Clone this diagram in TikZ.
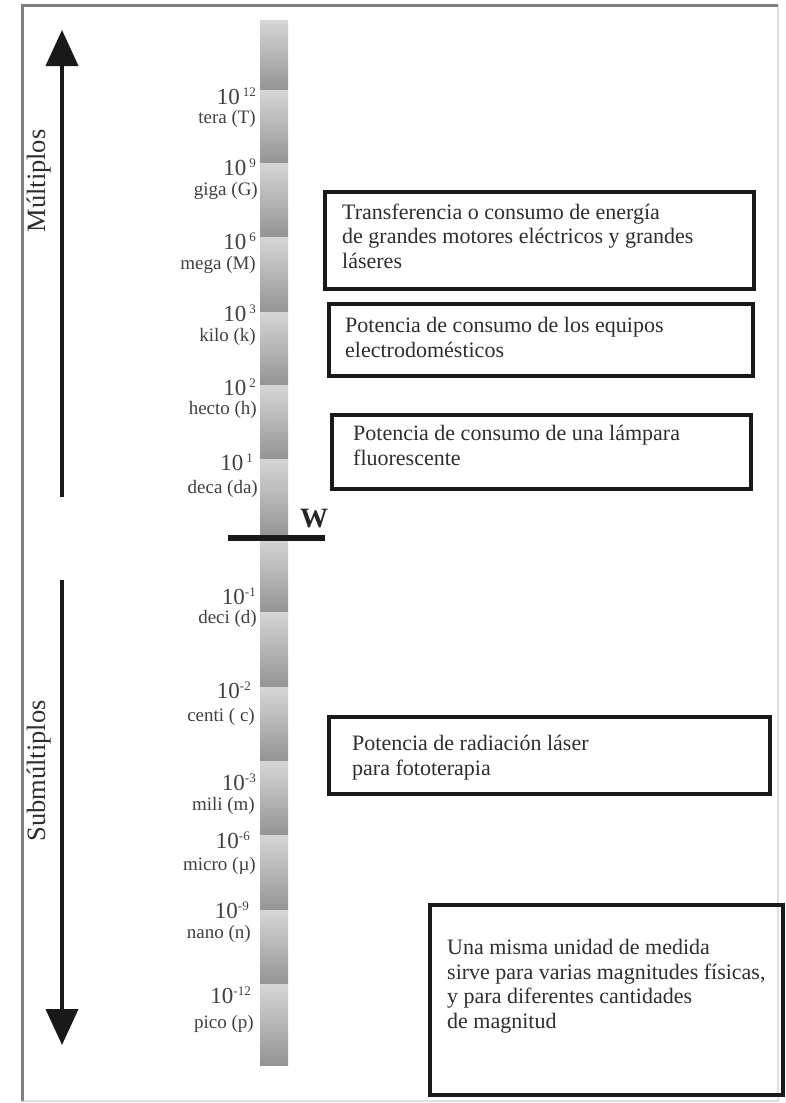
\documentclass[tikz,border=0pt]{standalone}
\usepackage{fontspec}
\setmainfont{Liberation Serif}
\usetikzlibrary{arrows.meta}
\definecolor{seglight}{gray}{0.84}
\definecolor{segdark}{gray}{0.58}
\definecolor{txtcol}{gray}{0.18}
\definecolor{lblcol}{gray}{0.25}
\newcommand{\pwr}[1]{{\fontsize{23}{23}\selectfont 10}\raisebox{8pt}{\fontsize{13}{13}\selectfont #1}}
\tikzset{
  lbl/.style={anchor=base east, inner sep=0pt, text=lblcol, font=\fontsize{19}{19}\selectfont},
  pw/.style={anchor=base east, inner sep=0pt, text=lblcol},
  box/.style={draw=black!90, line width=3.5pt, anchor=north west, inner sep=0pt},
  btxt/.style={anchor=base west, inner sep=0pt, align=left, text=txtcol, font=\fontsize{22}{24.5}\selectfont},
  bigarrow/.style={line width=4pt, black!90, -{Triangle[width=32pt,length=36pt]}},
  side/.style={rotate=90, anchor=base, inner sep=0pt, text=txtcol, font=\fontsize{26.5}{26.5}\selectfont}
}
\begin{document}
\begin{tikzpicture}[x=1pt,y=-1pt]
\useasboundingbox (0,0) rectangle (786,1103);
\fill[white] (0,0) rectangle (786,1103);
% frame
\draw[black!12, line width=1.5pt] (778,5) -- (778,1101) -- (22,1101);
\draw[black!50, line width=3pt] (22,1101) -- (22,5) -- (778,5);
% scale bar
\foreach \a/\b in {20/90,90/163,163/237,237/312,312/385,385/459,459/537,537/612,612/687,687/761,761/835,835/910,910/984,984/1065}
  \shade[top color=seglight, bottom color=segdark] (260,\a) rectangle (288,\b);
% arrows
\coordinate (upS) at (62,497);
\coordinate (upE) at (62,30);
\coordinate (dnS) at (62,580);
\coordinate (dnE) at (62,1045);
\draw[bigarrow] (upS) -- (upE);
\draw[bigarrow] (dnS) -- (dnE);
\node[side] (mult) at (45,181) {Múltiplos};
\node[side] (submult) at (45,771) {Submúltiplos};
% W line
\coordinate (wl) at (228,538);
\coordinate (wr) at (325,538);
\draw[line width=5.5pt, black!90] (wl) -- (wr);
\node[anchor=base, inner sep=0pt, font=\bfseries\fontsize{28}{28}\selectfont, text=black!85] (W) at (314,527) {W};
% labels
\node[pw] (p12) at (256,104) {\pwr{\hspace{3pt}12}};
\node[lbl] (n12) at (256,123) {tera (T)};
\node[pw] (p9) at (256,175) {\pwr{\hspace{3pt}9}};
\node[lbl] (n9) at (258,195) {giga (G)};
\node[pw] (p6) at (256,249) {\pwr{\hspace{3pt}6}};
\node[lbl] (n6) at (256,269) {mega (M)};
\node[pw] (p3) at (256,321) {\pwr{\hspace{3pt}3}};
\node[lbl] (n3) at (256,341) {kilo (k)};
\node[pw] (p2) at (256,395) {\pwr{\hspace{3pt}2}};
\node[lbl] (n2) at (257,414) {hecto (h)};
\node[pw] (p1) at (253,470) {\pwr{\hspace{3pt}1}};
\node[lbl] (n1) at (258,493) {deca (da)};
\node[pw] (m1) at (256,604) {\pwr{-1}};
\node[lbl] (dm1) at (257,623) {deci (d)};
\node[pw] (m2) at (251,698) {\pwr{-2}};
\node[lbl] (dm2) at (255,721) {centi ( c)};
\node[pw] (m3) at (256,790) {\pwr{-3}};
\node[lbl] (dm3) at (255,810) {mili (m)};
\node[pw] (m6) at (250,848) {\pwr{-6}};
\node[lbl] (dm6) at (256,870) {micro (µ)};
\node[pw] (m9) at (249,918) {\pwr{-9}};
\node[lbl] (dm9) at (251,938) {nano (n)};
\node[pw] (m12) at (251,1003) {\pwr{-12}};
\node[lbl] (dm12) at (254,1028) {pico (p)};
% boxes
\node[box, minimum width=429pt, minimum height=97pt] (b1) at (323,190) {};
\node[box, minimum width=424pt, minimum height=72pt] (b2) at (327,302) {};
\node[box, minimum width=419pt, minimum height=74pt] (b3) at (330,413) {};
\node[box, minimum width=441pt, minimum height=77pt] (b4) at (327,715) {};
\node[box, minimum width=353pt, minimum height=190pt] (b5) at (428,903) {};
\node[btxt] (t1) at (342,268) {Transferencia o consumo de energía\\de grandes motores eléctricos y grandes\\láseres};
\node[btxt] (t2) at (345,357) {Potencia de consumo de los equipos\\electrodomésticos};
\node[btxt] (t3) at (353,465) {Potencia de consumo de una lámpara\\fluorescente};
\node[btxt] (t4) at (352,775) {Potencia de radiación láser\\para fototerapia};
\node[btxt] (t5) at (447,1028) {Una misma unidad de medida\\sirve para varias magnitudes físicas,\\y para diferentes cantidades\\de magnitud};
\end{tikzpicture}
\end{document}
